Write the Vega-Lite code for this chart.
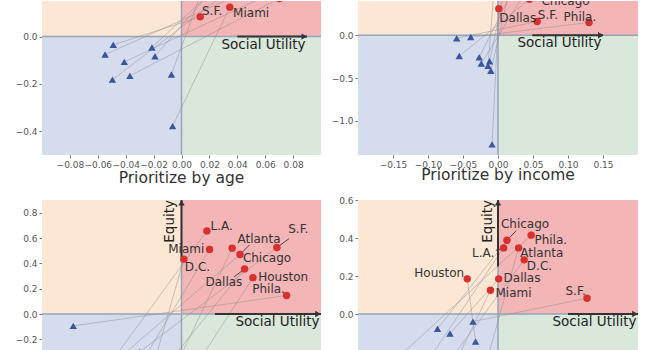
{
"$schema": "https://vega.github.io/schema/vega-lite/v6.json",
"padding": {"left": 15, "top": 0, "right": 5, "bottom": 0},
"columns": 2,
"bounds": "flush",
"spacing": {"row": 45, "column": 37},
"config": {"font": "DejaVu Sans", "view": {"stroke": null}, "axis": {"domain": false, "grid": false, "tickSize": 3, "tickColor": "#777", "labelColor": "#555", "labelFontSize": 9, "labelPadding": 2, "labelOverlap": false}},
"datasets": {
"quad": [{"q":"nw","x":-10,"x2":0,"y":0,"y2":10},{"q":"ne","x":0,"x2":10,"y":0,"y2":10},{"q":"sw","x":-10,"x2":0,"y":-10,"y2":0},{"q":"se","x":0,"x2":10,"y":-10,"y2":0}],
"cities": [
{"p":"tl","c":"S.F.","x0":-0.0489,"y0":-0.035,"x1":0.0134,"y1":0.083,"lx":0.0147,"ly":0.109},
{"p":"tl","c":"Miami","x0":-0.0064,"y0":-0.378,"x1":0.0346,"y1":0.124,"lx":0.037,"ly":0.1},
{"p":"tl","c":"L.A.","x0":-0.0548,"y0":-0.076,"x1":0.05,"y1":0.2},
{"p":"tl","c":"Atlanta","x0":-0.041,"y0":-0.107,"x1":0.06,"y1":0.17},
{"p":"tl","c":"Chicago","x0":-0.0495,"y0":-0.182,"x1":0.04,"y1":0.22},
{"p":"tl","c":"D.C.","x0":-0.037,"y0":-0.166,"x1":0.07,"y1":0.16},
{"p":"tl","c":"Dallas","x0":-0.0212,"y0":-0.046,"x1":0.02,"y1":0.18},
{"p":"tl","c":"Houston","x0":-0.019,"y0":-0.083,"x1":0.03,"y1":0.25},
{"p":"tl","c":"Phila.","x0":-0.0072,"y0":-0.16,"x1":0.015,"y1":0.2},
{"p":"tr","c":"Dallas","x0":-0.0085,"y0":-1.276,"x1":0.0012,"y1":0.31,"lx":0.0019,"ly":0.204},
{"p":"tr","c":"S.F.","x0":-0.059,"y0":-0.036,"x1":0.056,"y1":0.16,"lx":0.0568,"ly":0.232},
{"p":"tr","c":"Phila.","x0":-0.0389,"y0":-0.021,"x1":0.13,"y1":0.149,"lx":0.0937,"ly":0.214},
{"p":"tr","c":"Chicago","x0":-0.0554,"y0":-0.243,"x1":0.045,"y1":0.42,"lx":0.062,"ly":0.395},
{"p":"tr","c":"L.A.","x0":-0.0268,"y0":-0.257,"x1":0.02,"y1":0.5},
{"p":"tr","c":"Atlanta","x0":-0.0239,"y0":-0.33,"x1":0.035,"y1":0.45},
{"p":"tr","c":"D.C.","x0":-0.012,"y0":-0.304,"x1":0.01,"y1":0.55},
{"p":"tr","c":"Houston","x0":-0.0142,"y0":-0.357,"x1":-0.005,"y1":0.6},
{"p":"tr","c":"Miami","x0":-0.0102,"y0":-0.415,"x1":0.015,"y1":0.48},
{"p":"bl","c":"L.A.","x0":-0.55,"y0":-0.45,"x1":0.182,"y1":0.656,"lx":0.208,"ly":0.698},
{"p":"bl","c":"Miami","x0":-0.35,"y0":-0.5,"x1":0.201,"y1":0.51,"lx":-0.095,"ly":0.515},
{"p":"bl","c":"D.C.","x0":-0.2,"y0":-0.4,"x1":0.017,"y1":0.433,"lx":0.024,"ly":0.371},
{"p":"bl","c":"Chicago","x0":-0.1,"y0":-0.55,"x1":0.363,"y1":0.52,"lx":0.44,"ly":0.446},
{"p":"bl","c":"Atlanta","x0":-0.45,"y0":-0.35,"x1":0.419,"y1":0.47,"lx":0.401,"ly":0.594},
{"p":"bl","c":"Dallas","x0":-0.25,"y0":-0.6,"x1":0.452,"y1":0.356,"lx":0.172,"ly":0.253},
{"p":"bl","c":"Houston","x0":0.05,"y0":-0.5,"x1":0.512,"y1":0.287,"lx":0.55,"ly":0.292},
{"p":"bl","c":"S.F.","x0":-0.3,"y0":-0.3,"x1":0.684,"y1":0.525,"lx":0.765,"ly":0.669},
{"p":"bl","c":"Phila.","x0":-0.776,"y0":-0.094,"x1":0.753,"y1":0.146,"lx":0.507,"ly":0.198},
{"p":"br","c":"Chicago","x0":-0.432,"y0":-0.078,"x1":0.064,"y1":0.388,"lx":0.021,"ly":0.472},
{"p":"br","c":"Phila.","x0":-0.7,"y0":-0.22,"x1":0.237,"y1":0.415,"lx":0.26,"ly":0.388},
{"p":"br","c":"L.A.","x0":-0.55,"y0":-0.3,"x1":0.04,"y1":0.348,"lx":-0.185,"ly":0.322},
{"p":"br","c":"Atlanta","x0":-0.1,"y0":-0.3,"x1":0.147,"y1":0.348,"lx":0.159,"ly":0.322},
{"p":"br","c":"D.C.","x0":-0.45,"y0":-0.35,"x1":0.187,"y1":0.285,"lx":0.206,"ly":0.255},
{"p":"br","c":"Houston","x0":-0.16,"y0":-0.145,"x1":-0.22,"y1":0.185,"lx":-0.598,"ly":0.217},
{"p":"br","c":"Dallas","x0":-0.343,"y0":-0.103,"x1":0.005,"y1":0.185,"lx":0.04,"ly":0.188},
{"p":"br","c":"Miami","x0":-0.3,"y0":-0.25,"x1":-0.054,"y1":0.125,"lx":-0.018,"ly":0.112},
{"p":"br","c":"S.F.","x0":-0.179,"y0":-0.04,"x1":0.636,"y1":0.083,"lx":0.482,"ly":0.122}
],
"leaders": [
{"p":"bl","x":0.419,"y":0.47,"x2":0.487,"y2":0.545},
{"p":"bl","x":0.684,"y":0.525,"x2":0.77,"y2":0.594},
{"p":"bl","x":0.452,"y":0.356,"x2":0.376,"y2":0.292},
{"p":"br","x":0.064,"y":0.388,"x2":0.13,"y2":0.438},
{"p":"br","x":-0.015,"y":0.335,"x2":0.03,"y2":0.345}
],
"arrows": [
{"p":"tl","x":0.04,"y":0,"x2":0.09,"y2":0,"hx":0.088,"hy":0,"s":"triangle-right"},
{"p":"tr","x":0.049,"y":0,"x2":0.15,"y2":0,"hx":0.1468,"hy":0,"s":"triangle-right"},
{"p":"bl","x":0.24,"y":0,"x2":1,"y2":0,"hx":0.978,"hy":0,"s":"triangle-right"},
{"p":"bl","x":0,"y":0.45,"x2":0,"y2":0.9,"hx":0,"hy":0.878,"s":"triangle-up"},
{"p":"br","x":0.5,"y":0,"x2":1,"y2":0,"hx":0.978,"hy":0,"s":"triangle-right"},
{"p":"br","x":0,"y":0.25,"x2":0,"y2":0.6,"hx":0,"hy":0.585,"s":"triangle-up"}
],
"notes": [
{"p":"tl","t":"Social Utility","x":0.09,"y":0,"k":"h"},
{"p":"tr","t":"Social Utility","x":0.15,"y":0,"k":"h"},
{"p":"bl","t":"Social Utility","x":1,"y":0,"k":"h"},
{"p":"br","t":"Social Utility","x":1,"y":0,"k":"h"},
{"p":"bl","t":"Equity","x":0,"y":0.9,"k":"v"},
{"p":"br","t":"Equity","x":0,"y":0.6,"k":"v"}
]
},
"concat": [
{"width": 279, "height": 154, "layer": [
{"data":{"name":"quad"},"mark":{"type":"rect","clip":true},"encoding":{"x":{"field":"x","type":"quantitative","title":null,"scale":{"domain":[-0.09,0.09]},"axis":{"title":null,"tickCount":20,"labelOverlap":false,"values":[-0.08,-0.06,-0.04,-0.02,0,0.02,0.04,0.06,0.08],"format":".2f"}},"x2":{"field":"x2"},"y":{"field":"y","type":"quantitative","title":null,"scale":{"domain":[-0.499,0.138]},"axis":{"title":null,"tickCount":20,"labelOverlap":false,"values":[-0.4,-0.2,0],"format":".1f"}},"y2":{"field":"y2"},"color":{"field":"q","type":"nominal","scale":{"domain":["nw","ne","sw","se"],"range":["#fbe7d3","#f3b5b6","#d5dcee","#d9e8da"]},"legend":null}}},
{"data":{"values":[{"v":0}]},"mark":{"type":"rule","color":"#94a5bb","strokeWidth":1.5},"encoding":{"y":{"field":"v","type":"quantitative","title":null}}},
{"data":{"values":[{"v":0}]},"mark":{"type":"rule","color":"#94a5bb","strokeWidth":1.5},"encoding":{"x":{"field":"v","type":"quantitative","title":null}}},
{"data":{"name":"cities"},"transform":[{"filter":"datum.p==='tl'"}],"mark":{"type":"rule","clip":true,"color":"#8c8c8c","opacity":0.45,"strokeWidth":1},"encoding":{"x":{"field":"x0","type":"quantitative","title":null},"y":{"field":"y0","type":"quantitative","title":null},"x2":{"field":"x1"},"y2":{"field":"y1"}}},
{"data":{"name":"arrows"},"transform":[{"filter":"datum.p==='tl'"}],"mark":{"type":"rule","color":"#333","strokeWidth":2},"encoding":{"x":{"field":"x","type":"quantitative","title":null},"y":{"field":"y","type":"quantitative","title":null},"x2":{"field":"x2"},"y2":{"field":"y2"}}},
{"data":{"name":"arrows"},"transform":[{"filter":"datum.p==='tl'"}],"mark":{"type":"point","filled":true,"color":"#333","size":40,"opacity":1},"encoding":{"x":{"field":"hx","type":"quantitative","title":null},"y":{"field":"hy","type":"quantitative","title":null},"shape":{"field":"s","type":"nominal","scale":null}}},
{"data":{"name":"cities"},"transform":[{"filter":"datum.p==='tl'"}],"mark":{"type":"point","filled":true,"shape":"triangle-up","color":"#3a56a0","size":55,"opacity":1,"clip":true},"encoding":{"x":{"field":"x0","type":"quantitative","title":null},"y":{"field":"y0","type":"quantitative","title":null}}},
{"data":{"name":"cities"},"transform":[{"filter":"datum.p==='tl'"}],"mark":{"type":"point","filled":true,"shape":"circle","color":"#d7302f","size":55,"opacity":1,"clip":true},"encoding":{"x":{"field":"x1","type":"quantitative","title":null},"y":{"field":"y1","type":"quantitative","title":null}}},
{"data":{"name":"cities"},"transform":[{"filter":"datum.p==='tl' && isValid(datum.lx)"}],"mark":{"type":"text","align":"left","baseline":"middle","fontSize":12,"color":"#333","clip":true},"encoding":{"x":{"field":"lx","type":"quantitative","title":null},"y":{"field":"ly","type":"quantitative","title":null},"text":{"field":"c"}}},
{"data":{"name":"notes"},"transform":[{"filter":"datum.p==='tl' && datum.k==='h'"}],"mark":{"type":"text","align":"right","baseline":"top","dx":-1.5,"dy":1,"fontSize":13.5,"color":"#222"},"encoding":{"x":{"field":"x","type":"quantitative","title":null},"y":{"field":"y","type":"quantitative","title":null},"text":{"field":"t"}}}
]},
{"width": 280, "height": 154, "layer": [
{"data":{"name":"quad"},"mark":{"type":"rect","clip":true},"encoding":{"x":{"field":"x","type":"quantitative","title":null,"scale":{"domain":[-0.15,0.15]},"axis":{"title":null,"tickCount":20,"labelOverlap":false,"values":[-0.15,-0.1,-0.05,0,0.05,0.1,0.15],"format":".2f"}},"x2":{"field":"x2"},"y":{"field":"y","type":"quantitative","title":null,"scale":{"domain":[-1.294,0.357]},"axis":{"title":null,"tickCount":20,"labelOverlap":false,"values":[-1,-0.5,0],"format":".1f"}},"y2":{"field":"y2"},"color":{"field":"q","type":"nominal","scale":{"domain":["nw","ne","sw","se"],"range":["#fbe7d3","#f3b5b6","#d5dcee","#d9e8da"]},"legend":null}}},
{"data":{"values":[{"v":0}]},"mark":{"type":"rule","color":"#94a5bb","strokeWidth":1.5},"encoding":{"y":{"field":"v","type":"quantitative","title":null}}},
{"data":{"values":[{"v":0}]},"mark":{"type":"rule","color":"#94a5bb","strokeWidth":1.5},"encoding":{"x":{"field":"v","type":"quantitative","title":null}}},
{"data":{"name":"cities"},"transform":[{"filter":"datum.p==='tr'"}],"mark":{"type":"rule","clip":true,"color":"#8c8c8c","opacity":0.45,"strokeWidth":1},"encoding":{"x":{"field":"x0","type":"quantitative","title":null},"y":{"field":"y0","type":"quantitative","title":null},"x2":{"field":"x1"},"y2":{"field":"y1"}}},
{"data":{"name":"arrows"},"transform":[{"filter":"datum.p==='tr'"}],"mark":{"type":"rule","color":"#333","strokeWidth":2},"encoding":{"x":{"field":"x","type":"quantitative","title":null},"y":{"field":"y","type":"quantitative","title":null},"x2":{"field":"x2"},"y2":{"field":"y2"}}},
{"data":{"name":"arrows"},"transform":[{"filter":"datum.p==='tr'"}],"mark":{"type":"point","filled":true,"color":"#333","size":40,"opacity":1},"encoding":{"x":{"field":"hx","type":"quantitative","title":null},"y":{"field":"hy","type":"quantitative","title":null},"shape":{"field":"s","type":"nominal","scale":null}}},
{"data":{"name":"cities"},"transform":[{"filter":"datum.p==='tr'"}],"mark":{"type":"point","filled":true,"shape":"triangle-up","color":"#3a56a0","size":55,"opacity":1,"clip":true},"encoding":{"x":{"field":"x0","type":"quantitative","title":null},"y":{"field":"y0","type":"quantitative","title":null}}},
{"data":{"name":"cities"},"transform":[{"filter":"datum.p==='tr'"}],"mark":{"type":"point","filled":true,"shape":"circle","color":"#d7302f","size":55,"opacity":1,"clip":true},"encoding":{"x":{"field":"x1","type":"quantitative","title":null},"y":{"field":"y1","type":"quantitative","title":null}}},
{"data":{"name":"cities"},"transform":[{"filter":"datum.p==='tr' && isValid(datum.lx)"}],"mark":{"type":"text","align":"left","baseline":"middle","fontSize":12,"color":"#333","clip":true},"encoding":{"x":{"field":"lx","type":"quantitative","title":null},"y":{"field":"ly","type":"quantitative","title":null},"text":{"field":"c"}}},
{"data":{"name":"notes"},"transform":[{"filter":"datum.p==='tr' && datum.k==='h'"}],"mark":{"type":"text","align":"right","baseline":"top","dx":-1.5,"dy":1,"fontSize":13.5,"color":"#222"},"encoding":{"x":{"field":"x","type":"quantitative","title":null},"y":{"field":"y","type":"quantitative","title":null},"text":{"field":"t"}}}
]},
{"width": 279, "height": 152, "title": {"text": "Prioritize by age", "fontSize": 15.5, "fontWeight": "normal", "color": "#333", "offset": 13, "anchor": "middle"}, "layer": [
{"data":{"name":"quad"},"mark":{"type":"rect","clip":true},"encoding":{"x":{"field":"x","type":"quantitative","title":null,"scale":{"domain":[-1,1]},"axis":null},"x2":{"field":"x2"},"y":{"field":"y","type":"quantitative","title":null,"scale":{"domain":[-0.229,0.9]},"axis":{"title":null,"tickCount":20,"labelOverlap":false,"values":[-0.2,0,0.2,0.4,0.6,0.8],"format":".1f"}},"y2":{"field":"y2"},"color":{"field":"q","type":"nominal","scale":{"domain":["nw","ne","sw","se"],"range":["#fbe7d3","#f3b5b6","#d5dcee","#d9e8da"]},"legend":null}}},
{"data":{"values":[{"v":0}]},"mark":{"type":"rule","color":"#94a5bb","strokeWidth":1.5},"encoding":{"y":{"field":"v","type":"quantitative","title":null}}},
{"data":{"values":[{"v":0}]},"mark":{"type":"rule","color":"#94a5bb","strokeWidth":1.5},"encoding":{"x":{"field":"v","type":"quantitative","title":null,"axis":null}}},
{"data":{"name":"cities"},"transform":[{"filter":"datum.p==='bl'"}],"mark":{"type":"rule","clip":true,"color":"#8c8c8c","opacity":0.45,"strokeWidth":1},"encoding":{"x":{"field":"x0","type":"quantitative","title":null,"axis":null},"y":{"field":"y0","type":"quantitative","title":null},"x2":{"field":"x1"},"y2":{"field":"y1"}}},
{"data":{"name":"leaders"},"transform":[{"filter":"datum.p==='bl'"}],"mark":{"type":"rule","clip":true,"color":"#444","strokeWidth":1},"encoding":{"x":{"field":"x","type":"quantitative","title":null,"axis":null},"y":{"field":"y","type":"quantitative","title":null},"x2":{"field":"x2"},"y2":{"field":"y2"}}},
{"data":{"name":"arrows"},"transform":[{"filter":"datum.p==='bl'"}],"mark":{"type":"rule","color":"#333","strokeWidth":2},"encoding":{"x":{"field":"x","type":"quantitative","title":null,"axis":null},"y":{"field":"y","type":"quantitative","title":null},"x2":{"field":"x2"},"y2":{"field":"y2"}}},
{"data":{"name":"arrows"},"transform":[{"filter":"datum.p==='bl'"}],"mark":{"type":"point","filled":true,"color":"#333","size":40,"opacity":1},"encoding":{"x":{"field":"hx","type":"quantitative","title":null,"axis":null},"y":{"field":"hy","type":"quantitative","title":null},"shape":{"field":"s","type":"nominal","scale":null}}},
{"data":{"name":"cities"},"transform":[{"filter":"datum.p==='bl'"}],"mark":{"type":"point","filled":true,"shape":"triangle-up","color":"#3a56a0","size":55,"opacity":1,"clip":true},"encoding":{"x":{"field":"x0","type":"quantitative","title":null,"axis":null},"y":{"field":"y0","type":"quantitative","title":null}}},
{"data":{"name":"cities"},"transform":[{"filter":"datum.p==='bl'"}],"mark":{"type":"point","filled":true,"shape":"circle","color":"#d7302f","size":55,"opacity":1,"clip":true},"encoding":{"x":{"field":"x1","type":"quantitative","title":null,"axis":null},"y":{"field":"y1","type":"quantitative","title":null}}},
{"data":{"name":"cities"},"transform":[{"filter":"datum.p==='bl'"}],"mark":{"type":"text","align":"left","baseline":"middle","fontSize":12,"color":"#333","clip":true},"encoding":{"x":{"field":"lx","type":"quantitative","title":null,"axis":null},"y":{"field":"ly","type":"quantitative","title":null},"text":{"field":"c"}}},
{"data":{"name":"notes"},"transform":[{"filter":"datum.p==='bl' && datum.k==='h'"}],"mark":{"type":"text","align":"right","baseline":"top","dx":-1.5,"dy":1,"fontSize":13.5,"color":"#222"},"encoding":{"x":{"field":"x","type":"quantitative","title":null,"axis":null},"y":{"field":"y","type":"quantitative","title":null},"text":{"field":"t"}}},
{"data":{"name":"notes"},"transform":[{"filter":"datum.p==='bl' && datum.k==='v'"}],"mark":{"type":"text","align":"right","baseline":"bottom","angle":270,"dy":-5,"fontSize":13.5,"color":"#222"},"encoding":{"x":{"field":"x","type":"quantitative","title":null,"axis":null},"y":{"field":"y","type":"quantitative","title":null},"text":{"field":"t"}}}
]},
{"width": 280, "height": 152, "title": {"text": "Prioritize by income", "fontSize": 15.5, "fontWeight": "normal", "color": "#333", "offset": 13, "anchor": "middle"}, "layer": [
{"data":{"name":"quad"},"mark":{"type":"rect","clip":true},"encoding":{"x":{"field":"x","type":"quantitative","title":null,"scale":{"domain":[-1,1]},"axis":null},"x2":{"field":"x2"},"y":{"field":"y","type":"quantitative","title":null,"scale":{"domain":[-0.16,0.6]},"axis":{"title":null,"tickCount":20,"labelOverlap":false,"values":[0,0.2,0.4,0.6],"format":".1f"}},"y2":{"field":"y2"},"color":{"field":"q","type":"nominal","scale":{"domain":["nw","ne","sw","se"],"range":["#fbe7d3","#f3b5b6","#d5dcee","#d9e8da"]},"legend":null}}},
{"data":{"values":[{"v":0}]},"mark":{"type":"rule","color":"#94a5bb","strokeWidth":1.5},"encoding":{"y":{"field":"v","type":"quantitative","title":null}}},
{"data":{"values":[{"v":0}]},"mark":{"type":"rule","color":"#94a5bb","strokeWidth":1.5},"encoding":{"x":{"field":"v","type":"quantitative","title":null,"axis":null}}},
{"data":{"name":"cities"},"transform":[{"filter":"datum.p==='br'"}],"mark":{"type":"rule","clip":true,"color":"#8c8c8c","opacity":0.45,"strokeWidth":1},"encoding":{"x":{"field":"x0","type":"quantitative","title":null,"axis":null},"y":{"field":"y0","type":"quantitative","title":null},"x2":{"field":"x1"},"y2":{"field":"y1"}}},
{"data":{"name":"leaders"},"transform":[{"filter":"datum.p==='br'"}],"mark":{"type":"rule","clip":true,"color":"#444","strokeWidth":1},"encoding":{"x":{"field":"x","type":"quantitative","title":null,"axis":null},"y":{"field":"y","type":"quantitative","title":null},"x2":{"field":"x2"},"y2":{"field":"y2"}}},
{"data":{"name":"arrows"},"transform":[{"filter":"datum.p==='br'"}],"mark":{"type":"rule","color":"#333","strokeWidth":2},"encoding":{"x":{"field":"x","type":"quantitative","title":null,"axis":null},"y":{"field":"y","type":"quantitative","title":null},"x2":{"field":"x2"},"y2":{"field":"y2"}}},
{"data":{"name":"arrows"},"transform":[{"filter":"datum.p==='br'"}],"mark":{"type":"point","filled":true,"color":"#333","size":40,"opacity":1},"encoding":{"x":{"field":"hx","type":"quantitative","title":null,"axis":null},"y":{"field":"hy","type":"quantitative","title":null},"shape":{"field":"s","type":"nominal","scale":null}}},
{"data":{"name":"cities"},"transform":[{"filter":"datum.p==='br'"}],"mark":{"type":"point","filled":true,"shape":"triangle-up","color":"#3a56a0","size":55,"opacity":1,"clip":true},"encoding":{"x":{"field":"x0","type":"quantitative","title":null,"axis":null},"y":{"field":"y0","type":"quantitative","title":null}}},
{"data":{"name":"cities"},"transform":[{"filter":"datum.p==='br'"}],"mark":{"type":"point","filled":true,"shape":"circle","color":"#d7302f","size":55,"opacity":1,"clip":true},"encoding":{"x":{"field":"x1","type":"quantitative","title":null,"axis":null},"y":{"field":"y1","type":"quantitative","title":null}}},
{"data":{"name":"cities"},"transform":[{"filter":"datum.p==='br'"}],"mark":{"type":"text","align":"left","baseline":"middle","fontSize":12,"color":"#333","clip":true},"encoding":{"x":{"field":"lx","type":"quantitative","title":null,"axis":null},"y":{"field":"ly","type":"quantitative","title":null},"text":{"field":"c"}}},
{"data":{"name":"notes"},"transform":[{"filter":"datum.p==='br' && datum.k==='h'"}],"mark":{"type":"text","align":"right","baseline":"top","dx":-1.5,"dy":1,"fontSize":13.5,"color":"#222"},"encoding":{"x":{"field":"x","type":"quantitative","title":null,"axis":null},"y":{"field":"y","type":"quantitative","title":null},"text":{"field":"t"}}},
{"data":{"name":"notes"},"transform":[{"filter":"datum.p==='br' && datum.k==='v'"}],"mark":{"type":"text","align":"right","baseline":"bottom","angle":270,"dy":-3,"fontSize":13.5,"color":"#222"},"encoding":{"x":{"field":"x","type":"quantitative","title":null,"axis":null},"y":{"field":"y","type":"quantitative","title":null},"text":{"field":"t"}}}
]}
]
}
